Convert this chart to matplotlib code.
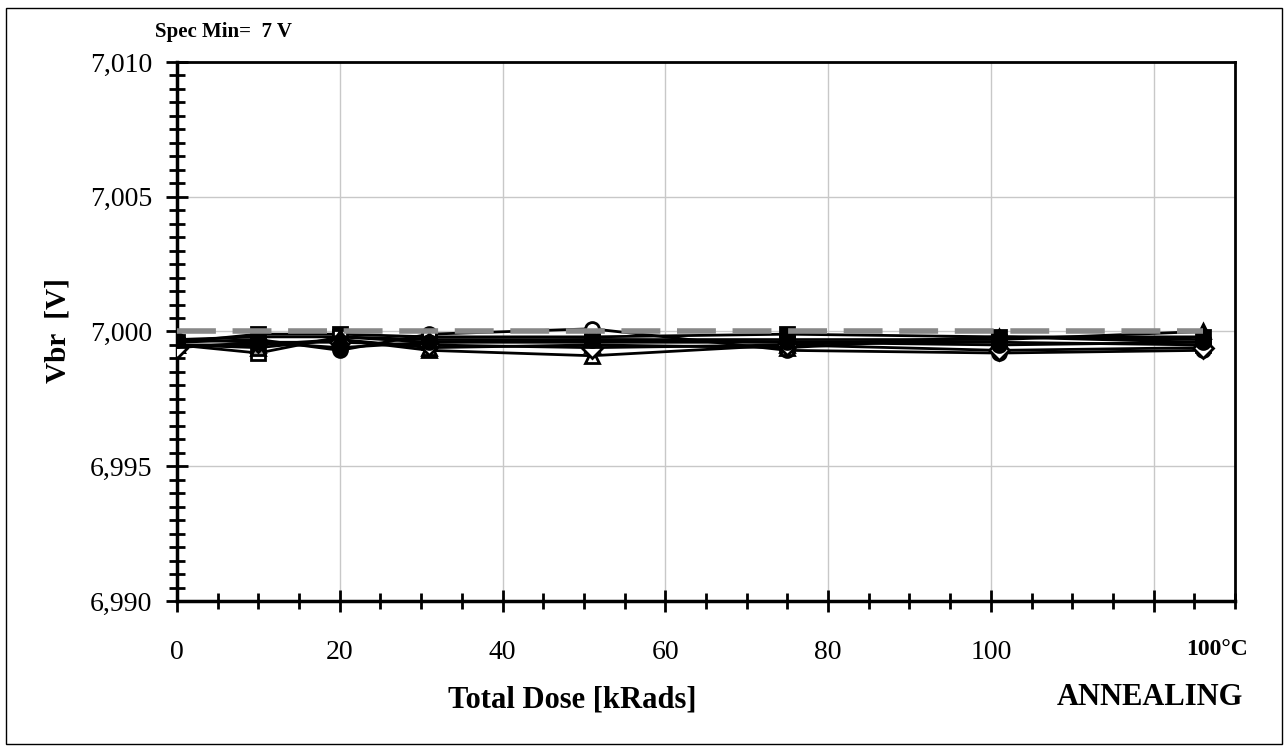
import numpy as np
import matplotlib.pyplot as plt
from matplotlib.ticker import MultipleLocator, FuncFormatter
from matplotlib.patches import Rectangle

plt.rcParams['font.family'] = ['Liberation Serif', 'DejaVu Serif']

# dose steps [kRads]; last point is the 100°C anneal
dose = [0, 10, 20, 31, 51, 75, 101, 126]

# Vbr readings [V] per device
vbr_sq_black = [6.9996, 6.9999, 6.9999, 6.9998, 6.9998, 6.9999, 6.9998, 6.9998]
vbr_sq_open = [6.9995, 6.9992, 6.9998, 6.9996, 6.9996, 6.9996, 6.9996, 6.9995]
vbr_circ_open = [6.9996, 6.9997, 6.9993, 6.9999, 7.0001, 6.9993, 6.9992, 6.9993]
vbr_tri_open = [6.9995, 6.9995, 6.9997, 6.9993, 6.9991, 6.9995, 6.9998, 6.9996]
vbr_tri_gray = [6.9995, 6.9994, 6.9997, 6.9994, 6.9995, 6.9994, 6.9998, 6.9997]
vbr_diam_open = [6.9994, 6.9996, 6.9996, 6.9995, 6.9994, 6.9995, 6.9993, 6.9994]
vbr_tri_black = [6.9997, 6.9998, 6.9998, 6.9997, 6.9997, 6.9997, 6.9997, 7.0000]
vbr_circ_black = [6.9997, 6.9996, 6.9994, 6.9996, 6.9997, 6.9996, 6.9995, 6.9996]

spec_min = 7.0

series = [
    (vbr_sq_black, 's', 'black'),
    (vbr_sq_open, 's', 'white'),
    (vbr_circ_open, 'o', 'white'),
    (vbr_tri_open, '^', 'white'),
    (vbr_tri_gray, '^', '#a0a0a0'),
    (vbr_diam_open, 'D', 'white'),
    (vbr_tri_black, '^', 'black'),
    (vbr_circ_black, 'o', 'black'),
]

fig = plt.figure(figsize=(12.88, 7.52), dpi=100)
ax = fig.add_axes([0.1374, 0.2008, 0.8215, 0.7168])

for vals, mk, fc in series:
    ax.plot(dose, vals, color='black', lw=2, marker=mk, markersize=10,
            markerfacecolor=fc, markeredgecolor='black', markeredgewidth=2, zorder=3)

ax.plot([dose[0], dose[-1]], [spec_min, spec_min], color='#888888', lw=4,
        dashes=(7, 3), zorder=4)

ax.set_xlim(0, 130)
ax.set_ylim(6.990, 7.010)
ax.xaxis.set_major_locator(MultipleLocator(20))
ax.xaxis.set_minor_locator(MultipleLocator(5))
ax.yaxis.set_major_locator(MultipleLocator(0.005))
ax.yaxis.set_minor_locator(MultipleLocator(0.0005))
ax.xaxis.set_major_formatter(FuncFormatter(lambda v, p: '' if v > 110 else f'{v:.0f}'))
ax.yaxis.set_major_formatter(FuncFormatter(lambda v, p: f'{v:.3f}'.replace('.', ',')))

ax.grid(True, which='major', color='#c8c8c8', lw=1)
ax.set_axisbelow(True)
ax.tick_params(which='major', direction='inout', length=16, width=2, labelsize=20)
ax.tick_params(which='minor', direction='inout', length=12, width=2)
ax.tick_params(axis='x', which='major', pad=20)
ax.tick_params(axis='y', which='major', pad=10)
for side in ['left', 'bottom']:
    ax.spines[side].set_linewidth(2.5)
for side in ['top', 'right']:
    ax.spines[side].set_linewidth(2)

fig.text(0.444, 0.069, 'Total Dose [kRads]', fontsize=22, fontweight='bold',
         ha='center', va='center')
fig.text(0.965, 0.072, 'ANNEALING', fontsize=22, fontweight='bold',
         ha='right', va='center')
fig.text(0.945, 0.136, '100°C', fontsize=17, fontweight='bold',
         ha='center', va='center')
fig.text(0.045, 0.56, 'Vbr  [V]', fontsize=21, fontweight='bold',
         rotation=90, ha='center', va='center')
fig.text(0.12, 0.958, 'Spec Min=  7 V', fontsize=15, fontweight='bold',
         ha='left', va='center')

fig.patches.append(Rectangle((0.005, 0.01), 0.99, 0.98, transform=fig.transFigure,
                             fill=False, edgecolor='black', lw=1))

fig.savefig('out.png', dpi=100)
